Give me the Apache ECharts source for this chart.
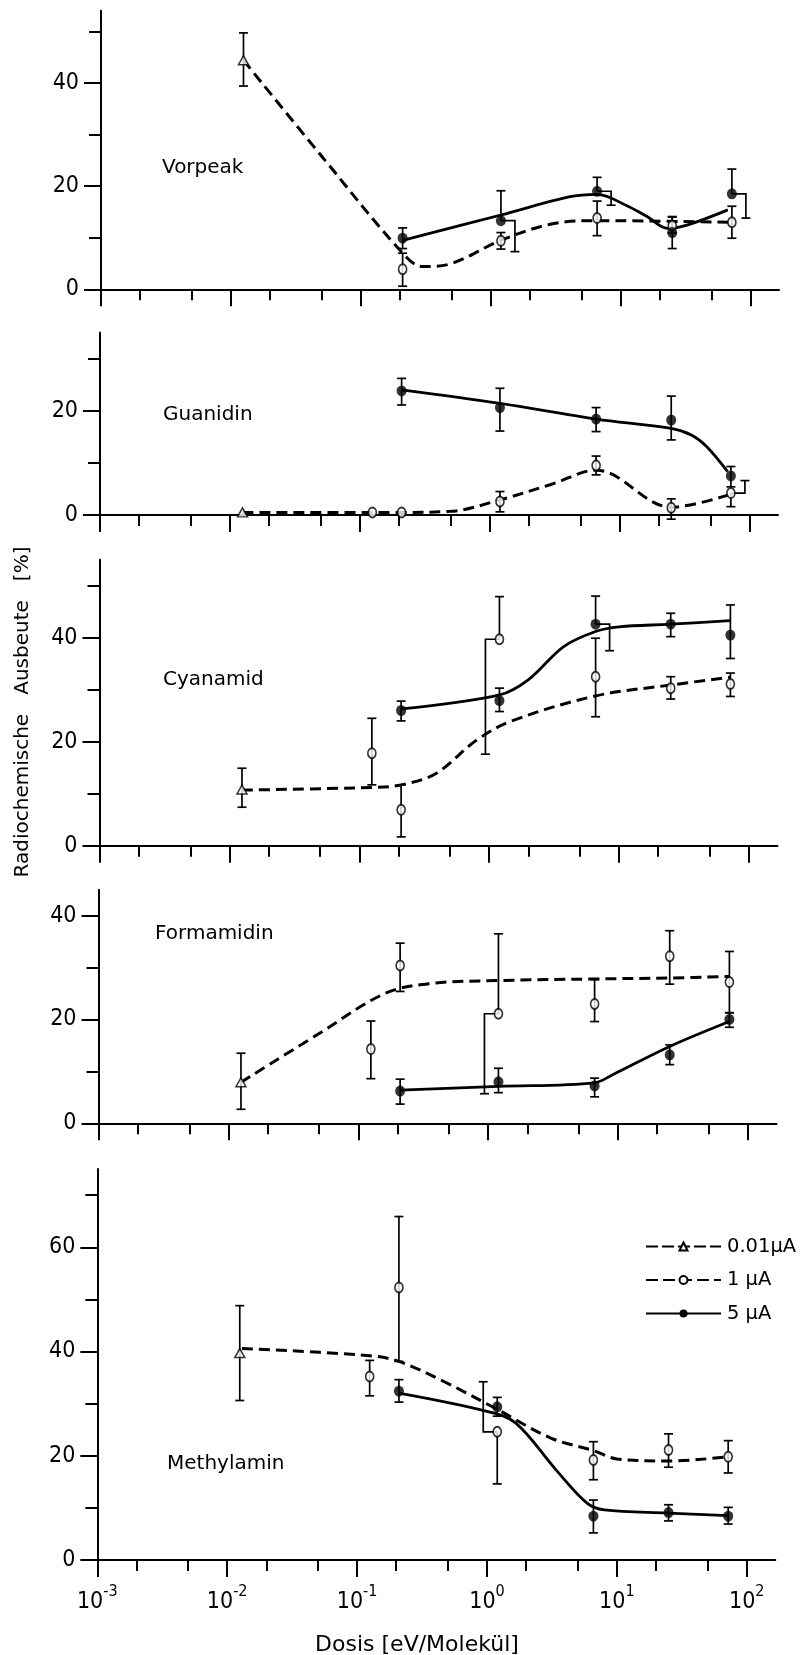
<!DOCTYPE html>
<html>
<head>
<meta charset="utf-8">
<script src="https://cdn.jsdelivr.net/npm/echarts@6/dist/echarts.min.js"></script>
<style>
  html, body { margin: 0; padding: 0; background: #fff; }
  #chart { width: 801px; height: 1655px; }
</style>
</head>
<body>
<div id="chart"></div>
<script>
// Each measurement: [dose in eV/molecule, yield %, lower error end, upper error end]
// Each curve: [dose, yield %] points along the hand-fitted trend line

// ---- Vorpeak ----
const vorpeakTri = [[0.0125, 44.4, 39.4, 49.7]];
const vorpeakOpen = [[0.21, 3.9, 0.6, 7.0], [1.2, 9.4, 7.8, 11.0], [6.6, 13.8, 10.4, 17.1], [25, 12.3, 10.9, 14.0], [72, 13.0, 9.9, 16.1]];
const vorpeakSolid = [[0.21, 9.9, 7.9, 11.9], [1.2, 13.3, 7.3, 19.1], [6.6, 19.0, 16.3, 21.7], [25, 11.0, 7.9, 14.1], [72, 18.5, 13.8, 23.3]];
const vorpeakOpenBars = ['', '', '', '', ''];
const vorpeakSolidBars = ['', 'lowR', 'lowR', '', 'lowR'];
const vorpeakDashCurve = [[0.0125, 44.4], [0.05, 25.8], [0.21, 7.0], [0.3, 4.4], [0.5, 5.0], [1.2, 9.5], [3.0, 12.7], [6.6, 13.3], [72, 13.0]];
const vorpeakSolidCurve = [[0.21, 9.5], [1.2, 14.4], [4.0, 17.9], [6.6, 18.4], [11, 16.3], [16, 14.1], [23, 11.8], [33, 12.5], [67, 15.4]];

// ---- Guanidin ----
const guanidinTri = [[0.0125, 0.5, 0.5, 0.5]];
const guanidinOpen = [[0.125, 0.5, 0.5, 0.5], [0.21, 0.5, 0.5, 0.5], [1.2, 2.6, 0.6, 4.5], [6.6, 9.5, 7.7, 11.3], [25, 1.4, -0.8, 3.1], [72, 4.2, 1.6, 6.6]];
const guanidinSolid = [[0.21, 23.8, 21.1, 26.2], [1.2, 20.6, 16.1, 24.3], [6.6, 18.4, 16.0, 20.6], [25, 18.2, 14.4, 22.8], [72, 7.5, 5.4, 9.3]];
const guanidinOpenBars = ['', '', '', '', '', 'upR'];
const guanidinSolidBars = ['', '', '', '', ''];
const guanidinDashCurve = [[0.0125, 0.5], [0.21, 0.5], [0.5, 0.7], [1.2, 2.9], [3.0, 5.9], [6.6, 8.6], [25, 1.5], [72, 4.0]];
const guanidinSolidCurve = [[0.21, 24.0], [1.2, 21.4], [6.6, 18.4], [25, 16.6], [36, 15.3], [47, 13.1], [68, 8.3]];

// ---- Cyanamid ----
const cyanamidTri = [[0.0125, 10.8, 7.4, 14.9]];
const cyanamidOpen = [[0.125, 17.8, 11.7, 24.5], [0.21, 6.9, 1.7, 11.7], [1.2, 39.7, 17.6, 47.9], [6.6, 32.5, 24.8, 39.9], [25, 30.3, 28.2, 32.5], [72, 31.1, 28.7, 33.2]];
const cyanamidSolid = [[0.21, 26.0, 24.0, 27.8], [1.2, 27.9, 25.8, 30.3], [6.6, 42.6, 37.5, 48.0], [25, 42.6, 40.2, 44.7], [72, 40.5, 36.0, 46.3]];
const cyanamidOpenBars = ['', '', 'lowL', '', '', ''];
const cyanamidSolidBars = ['', '', 'lowR', '', ''];
const cyanamidDashCurve = [[0.0125, 10.7], [0.125, 11.2], [0.21, 11.7], [0.39, 13.9], [0.8, 20.3], [1.5, 24.0], [6.6, 28.8], [25, 30.9], [72, 32.4]];
const cyanamidSolidCurve = [[0.21, 26.3], [1.2, 29.0], [2.0, 31.9], [3.75, 38.3], [6.6, 41.2], [10, 42.1], [25, 42.6], [72, 43.3]];

// ---- Formamidin ----
const formamidinTri = [[0.0125, 7.9, 2.7, 13.5]];
const formamidinOpen = [[0.125, 14.3, 8.6, 19.7], [0.21, 30.4, 25.4, 34.7], [1.2, 21.1, 5.7, 36.5], [6.6, 23.0, 19.6, 27.7], [25, 32.2, 26.8, 37.1], [72, 27.2, 21.3, 33.1]];
const formamidinSolid = [[0.21, 6.2, 3.7, 8.5], [1.2, 8.0, 5.9, 10.6], [6.6, 7.2, 5.1, 8.7], [25, 13.2, 11.3, 15.1], [72, 20.0, 18.5, 21.3]];
const formamidinOpenBars = ['', '', 'lowL', '', '', ''];
const formamidinSolidBars = ['', '', '', '', ''];
const formamidinDashCurve = [[0.0125, 7.9], [0.05, 17.3], [0.16, 25.0], [0.35, 26.9], [1.2, 27.5], [6.6, 27.8], [25, 28.0], [72, 28.3]];
const formamidinSolidCurve = [[0.21, 6.4], [1.2, 7.1], [6.6, 7.8], [9, 9.3], [25, 14.8], [72, 19.6]];

// ---- Methylamin ----
const methylaminTri = [[0.0125, 39.7, 30.6, 48.8]];
const methylaminOpen = [[0.125, 35.2, 31.5, 38.3], [0.21, 52.3, 38.1, 65.9], [1.2, 24.6, 14.6, 34.2], [6.6, 19.2, 15.4, 22.7], [25, 21.1, 17.8, 24.2], [72, 19.8, 16.7, 22.9]];
const methylaminSolid = [[0.21, 32.4, 30.3, 34.6], [1.2, 29.4, 27.6, 31.2], [6.6, 8.4, 5.2, 11.5], [25, 9.1, 7.5, 10.6], [72, 8.4, 6.9, 10.1]];
const methylaminOpenBars = ['', '', 'upL', '', '', ''];
const methylaminSolidBars = ['', '', '', '', ''];
const methylaminDashCurve = [[0.013, 40.6], [0.125, 39.2], [0.21, 38.1], [0.47, 34.2], [1.2, 28.9], [3.1, 23.4], [6.6, 21.0], [10, 19.4], [25, 19.0], [72, 19.8]];
const methylaminSolidCurve = [[0.21, 32.0], [1.0, 28.5], [1.66, 26.3], [3.4, 17.3], [5.9, 10.9], [8, 9.6], [25, 9.0], [72, 8.5]];

// ---- axes ----
const decadeExponents = [-3, -2, -1, 0, 1, 2];
const decadeLabels = ['-3', '-2', '-1', '0', '1', '2'];
const minorFactors = [2, 5];
const yMajorStep = 20;
const yMinorStep = 10;
const seriesNames = ['0.01µA', '1 µA', '5 µA'];
const axisTitleX = 'Dosis [eV/Molekül]';
const axisTitleY = 'Radiochemische   Ausbeute   [%]';

// layout of the five stacked plots
const LOG_MIN = -3, LOG_MAX = 2.22, PLOT_W = 678;
const panels = [
  { title: 'Vorpeak',    left: 101,  top: 10.7,   height: 278.6, max: 54, tx: 162, ty: 168,
    tri: vorpeakTri, open: vorpeakOpen, solid: vorpeakSolid, openBars: vorpeakOpenBars, solidBars: vorpeakSolidBars,
    dash: vorpeakDashCurve, line: vorpeakSolidCurve },
  { title: 'Guanidin',   left: 100,  top: 332.5,  height: 182.5, max: 35, tx: 163, ty: 415,
    tri: guanidinTri, open: guanidinOpen, solid: guanidinSolid, openBars: guanidinOpenBars, solidBars: guanidinSolidBars,
    dash: guanidinDashCurve, line: guanidinSolidCurve },
  { title: 'Cyanamid',   left: 99.5, top: 559.7,  height: 286,   max: 55, tx: 163, ty: 680,
    tri: cyanamidTri, open: cyanamidOpen, solid: cyanamidSolid, openBars: cyanamidOpenBars, solidBars: cyanamidSolidBars,
    dash: cyanamidDashCurve, line: cyanamidSolidCurve },
  { title: 'Formamidin', left: 98.5, top: 889.7,  height: 233.6, max: 45, tx: 155, ty: 934,
    tri: formamidinTri, open: formamidinOpen, solid: formamidinSolid, openBars: formamidinOpenBars, solidBars: formamidinSolidBars,
    dash: formamidinDashCurve, line: formamidinSolidCurve },
  { title: 'Methylamin', left: 97.3, top: 1169.1, height: 390.9, max: 75, tx: 167, ty: 1464,
    tri: methylaminTri, open: methylaminOpen, solid: methylaminSolid, openBars: methylaminOpenBars, solidBars: methylaminSolidBars,
    dash: methylaminDashCurve, line: methylaminSolidCurve }
];

const INK = '#000';
const NUM_FONT = "'Liberation Sans Narrow', 'DejaVu Sans Condensed', sans-serif";
const TEXT_FONT = "'DejaVu Sans', sans-serif";
const lg = Math.log10;

const minorLogTicks = [];
decadeExponents.forEach(e => minorFactors.forEach(f => {
  const v = e + lg(f);
  if (v <= LOG_MAX) minorLogTicks.push(v);
}));

function stepValues(step, offset, max) {
  const out = [];
  for (let v = offset; v <= max; v += step) out.push(v);
  return out;
}

const BAR_OFFSET = 14, CAP = 4.5;
function errorBarSeries(rows, bars, axisIdx) {
  return {
    type: 'custom', xAxisIndex: axisIdx, yAxisIndex: axisIdx, z: 3, silent: true,
    data: rows.map(r => [lg(r[0]), r[1], r[2], r[3]]),
    encode: { x: 0, y: 1 },
    renderItem(params, api) {
      const x = api.value(0);
      const c = api.coord([x, api.value(1)]);
      const lo = api.coord([x, api.value(2)]);
      const hi = api.coord([x, api.value(3)]);
      const mode = bars[params.dataIndex] || '';
      const style = { stroke: INK, lineWidth: 1.7, fill: null };
      const children = [];
      const arm = (endY, side) => {
        if (Math.abs(endY - c[1]) < 0.5) return;
        const bx = c[0] + side * BAR_OFFSET;
        if (side) {
          children.push({ type: 'polyline', shape: { points: [[c[0], c[1]], [bx, c[1]], [bx, endY]] }, style });
        } else {
          children.push({ type: 'line', shape: { x1: c[0], y1: c[1], x2: c[0], y2: endY }, style });
        }
        children.push({ type: 'line', shape: { x1: bx - CAP, y1: endY, x2: bx + CAP, y2: endY }, style });
      };
      arm(hi[1], mode === 'upR' ? 1 : mode === 'upL' ? -1 : 0);
      arm(lo[1], mode === 'lowR' ? 1 : mode === 'lowL' ? -1 : 0);
      return { type: 'group', children };
    }
  };
}

const markerStyles = {
  tri:   { symbol: 'triangle', symbolSize: [10, 9],  itemStyle: { color: '#fff', borderColor: INK, borderWidth: 1.5 } },
  open:  { symbol: 'circle',   symbolSize: [8, 10], itemStyle: { color: '#fff', borderColor: INK, borderWidth: 1.8 } },
  solid: { symbol: 'circle',   symbolSize: [10, 11], itemStyle: { color: INK, borderColor: INK, borderWidth: 0 } }
};
function markerSeries(rows, kind, axisIdx) {
  return Object.assign({
    type: 'scatter', xAxisIndex: axisIdx, yAxisIndex: axisIdx, z: 5, silent: true,
    data: rows.map(r => [lg(r[0]), r[1]])
  }, markerStyles[kind]);
}
function curveSeries(points, dashed, axisIdx) {
  return {
    type: 'line', xAxisIndex: axisIdx, yAxisIndex: axisIdx, z: 2, silent: true,
    smooth: 0.35, symbol: 'none', showSymbol: false,
    data: points.map(p => [lg(p[0]), p[1]]),
    lineStyle: dashed ? { color: INK, width: 3, type: [11, 6] } : { color: INK, width: 2.8, type: 'solid' }
  };
}

const option = {
  animation: false,
  backgroundColor: '#fff',
  grid: [], xAxis: [], yAxis: [], series: [], graphic: [],
  legend: {
    orient: 'vertical', left: 640, top: 1231.5, itemWidth: 75, itemHeight: 10, itemGap: 13.5,
    selectedMode: false,
    textStyle: { fontFamily: TEXT_FONT, fontSize: 19.5, color: INK, lineHeight: 20, padding: [0, 0, 0, 1] },
    data: seriesNames
  }
};

const lastIdx = panels.length - 1;
panels.forEach((p, i) => {
  option.grid.push({ left: p.left, top: p.top, width: PLOT_W, height: p.height });
  const tickLine = { color: INK, width: 2 };
  // decade ticks (with labels under the bottom plot)
  option.xAxis.push({
    type: 'value', gridIndex: i, min: LOG_MIN, max: LOG_MAX, position: 'bottom',
    axisLine: { onZero: false, lineStyle: { color: INK, width: 2 } },
    axisTick: { customValues: decadeExponents, length: 17, lineStyle: tickLine },
    axisLabel: i === lastIdx ? {
      customValues: decadeExponents, margin: 24, color: INK,
      formatter: v => '{b|10}{s|' + decadeLabels[decadeExponents.indexOf(Math.round(v))] + '}',
      rich: {
        b: { fontFamily: NUM_FONT, fontSize: 23, color: INK, lineHeight: 30, verticalAlign: 'bottom' },
        s: { fontFamily: NUM_FONT, fontSize: 16, color: INK, lineHeight: 16, verticalAlign: 'top' }
      }
    } : { show: false },
    splitLine: { show: false }
  });
  // 2x and 5x ticks inside each decade
  option.xAxis.push({
    type: 'value', gridIndex: i, min: LOG_MIN, max: LOG_MAX, position: 'bottom',
    axisLine: { show: false, onZero: false },
    axisTick: { customValues: minorLogTicks, length: 11, lineStyle: tickLine },
    axisLabel: { show: false }, splitLine: { show: false }
  });
  const majors = stepValues(yMajorStep, 0, p.max);
  const minors = stepValues(yMajorStep, yMinorStep, p.max);
  option.yAxis.push({
    type: 'value', gridIndex: i, min: 0, max: p.max, position: 'left',
    axisLine: { show: true, onZero: false, lineStyle: { color: INK, width: 2 } },
    axisTick: { show: true, customValues: majors, length: 17, lineStyle: tickLine },
    axisLabel: { customValues: majors, margin: 22, color: INK, fontFamily: NUM_FONT, fontSize: 23 },
    splitLine: { show: false }
  });
  option.yAxis.push({
    type: 'value', gridIndex: i, min: 0, max: p.max, position: 'left',
    axisLine: { show: false, onZero: false },
    axisTick: { show: true, customValues: minors, length: 12, lineStyle: tickLine },
    axisLabel: { show: false }, splitLine: { show: false }
  });

  const ax = 2 * i;
  option.series.push(curveSeries(p.dash, true, ax));
  option.series.push(curveSeries(p.line, false, ax));
  option.series.push(errorBarSeries(p.tri, [], ax));
  option.series.push(errorBarSeries(p.open, p.openBars, ax));
  option.series.push(errorBarSeries(p.solid, p.solidBars, ax));
  option.series.push(markerSeries(p.tri, 'tri', ax));
  option.series.push(markerSeries(p.open, 'open', ax));
  option.series.push(markerSeries(p.solid, 'solid', ax));

  option.graphic.push({
    type: 'text', x: p.tx, y: p.ty, silent: true,
    style: { text: p.title, fill: INK, font: '20px ' + TEXT_FONT, textAlign: 'left', textVerticalAlign: 'middle' }
  });
});

// legend entries for the three beam currents
const legendAxis = 2 * lastIdx;
option.series.push({
  type: 'line', name: seriesNames[0], xAxisIndex: legendAxis, yAxisIndex: legendAxis, data: [],
  symbol: 'triangle', symbolSize: 8,
  itemStyle: { color: '#fff', borderColor: INK, borderWidth: 1.3 },
  lineStyle: { color: INK, width: 2, type: [12, 4] }
});
option.series.push({
  type: 'line', name: seriesNames[1], xAxisIndex: legendAxis, yAxisIndex: legendAxis, data: [],
  symbol: 'circle', symbolSize: 8,
  itemStyle: { color: '#fff', borderColor: INK, borderWidth: 1.6 },
  lineStyle: { color: INK, width: 3, type: [12, 5] }
});
option.series.push({
  type: 'line', name: seriesNames[2], xAxisIndex: legendAxis, yAxisIndex: legendAxis, data: [],
  symbol: 'circle', symbolSize: 9,
  itemStyle: { color: INK, borderColor: INK, borderWidth: 0 },
  lineStyle: { color: INK, width: 2.2, type: 'solid' }
});

// axis titles
option.graphic.push({
  type: 'text', x: 417, y: 1645, silent: true,
  style: { text: axisTitleX, fill: INK, font: '22px ' + TEXT_FONT, textAlign: 'center', textVerticalAlign: 'middle' }
});
option.graphic.push({
  type: 'text', x: 23, y: 712, rotation: Math.PI / 2, silent: true,
  style: { text: axisTitleY, fill: INK, font: '20px ' + TEXT_FONT, textAlign: 'center', textVerticalAlign: 'middle' }
});

const chart = echarts.init(document.getElementById('chart'), null, { renderer: 'canvas' });
chart.setOption(option);
</script>
</body>
</html>
